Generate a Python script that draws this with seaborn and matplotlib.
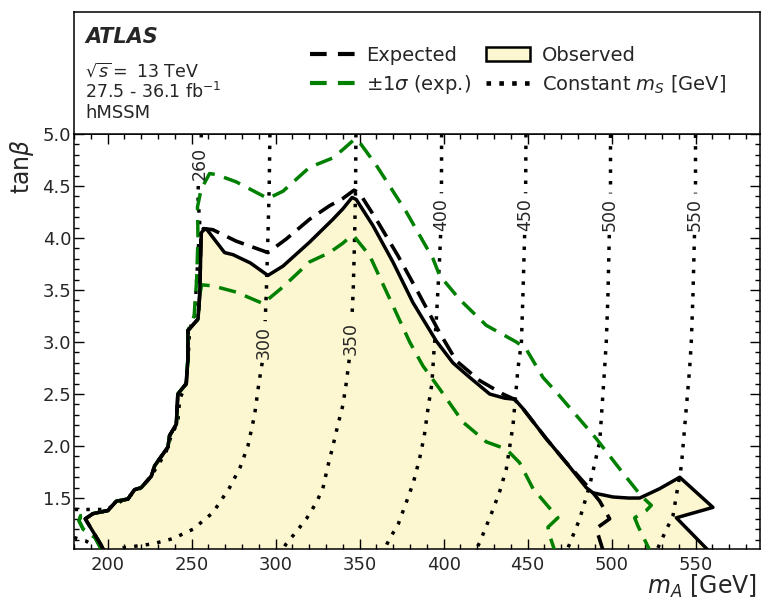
import numpy as np
import pandas as pd
import matplotlib
matplotlib.use('Agg')
import matplotlib.pyplot as plt
import seaborn as sns
from matplotlib.lines import Line2D
from matplotlib.patches import Patch
from matplotlib.ticker import MultipleLocator

# observed excluded region (m_A [GeV], tan beta), lower edge closes on the x axis
obs_mA = [197.6, 195.7, 186.7, 191.3, 200.2, 205.2, 212.1, 216.0, 220.0, 226.0, 228.0, 235.9, 236.9,
          240.9, 241.8, 246.8, 247.8, 247.8, 253.8, 254.8, 255.8, 256.7, 258.7, 262.0, 269.6, 274.6,
          285.0, 295.4, 304.4, 320.2, 334.1, 340.0, 345.5, 348.0, 357.9, 369.8, 381.7, 395.6, 405.5,
          415.5, 427.4, 436.3, 442.3, 447.2, 461.1, 473.0, 484.9, 488.9, 500.8, 510.0, 516.7, 528.6,
          540.5, 560.3, 538.5, 557.3]
obs_tb = [1.00, 1.06, 1.30, 1.35, 1.38, 1.47, 1.49, 1.58, 1.60, 1.71, 1.81, 1.99, 2.10,
          2.21, 2.50, 2.60, 2.84, 3.11, 3.22, 3.45, 4.05, 4.07, 4.09, 4.02, 3.86, 3.84,
          3.76, 3.64, 3.73, 3.96, 4.18, 4.28, 4.39, 4.37, 4.12, 3.77, 3.38, 3.01, 2.80,
          2.66, 2.50, 2.46, 2.45, 2.36, 2.07, 1.84, 1.60, 1.55, 1.51, 1.50, 1.50, 1.59,
          1.70, 1.41, 1.31, 1.00]

# expected limit
exp_mA = [197.6, 195.7, 186.7, 191.3, 200.2, 205.2, 212.1, 216.0, 220.0, 226.0, 228.0, 235.9, 236.9,
          240.9, 241.8, 246.8, 247.8, 247.8, 253.8, 254.8, 255.6, 257.0, 262.6, 276.5, 295.4, 306.3,
          320.2, 332.1, 340.0, 346.7, 350.0, 359.9, 372.8, 384.7, 397.6, 407.5, 421.4, 435.3, 442.0,
          447.2, 461.1, 473.0, 486.9, 492.9, 498.8, 491.9, 491.9, 494.8]
exp_tb = [1.00, 1.06, 1.30, 1.35, 1.38, 1.47, 1.49, 1.58, 1.60, 1.71, 1.81, 1.99, 2.10,
          2.21, 2.50, 2.60, 2.84, 3.11, 3.22, 3.45, 4.05, 4.09, 4.08, 3.97, 3.86, 3.99,
          4.18, 4.31, 4.38, 4.46, 4.43, 4.18, 3.83, 3.48, 3.09, 2.82, 2.63, 2.50, 2.45,
          2.36, 2.07, 1.84, 1.59, 1.47, 1.30, 1.22, 1.15, 1.00]

# +1 sigma band edge
up_mA = [196.5, 192.5, 185.5, 183.0, 184.0, 191.3, 200.2, 205.2, 212.1, 216.0, 220.0, 226.0, 228.0,
         235.9, 236.9, 240.9, 241.8, 246.8, 247.8, 247.8, 251.5, 253.0, 253.8, 253.5, 255.7, 260.7,
         264.7, 276.5, 295.4, 304.4, 320.2, 334.1, 340.0, 347.0, 349.5, 359.9, 377.8, 393.7, 397.6,
         409.5, 425.4, 443.3, 449.2, 459.1, 467.0, 490.9, 504.8, 517.6, 523.6, 520.6, 513.7, 515.7, 522.6]
up_tb = [1.00, 1.12, 1.20, 1.28, 1.33, 1.35, 1.38, 1.47, 1.49, 1.58, 1.60, 1.71, 1.81,
         1.99, 2.10, 2.21, 2.50, 2.60, 2.84, 3.11, 3.25, 3.60, 4.00, 4.30, 4.47, 4.62,
         4.61, 4.54, 4.38, 4.45, 4.68, 4.77, 4.85, 4.95, 4.93, 4.70, 4.25, 3.80, 3.64,
         3.41, 3.16, 3.00, 2.93, 2.66, 2.52, 2.07, 1.78, 1.52, 1.43, 1.38, 1.31, 1.23, 1.00]

# -1 sigma band edge
dn_mA = [196.5, 192.5, 185.5, 183.0, 184.0, 191.3, 200.2, 205.2, 212.1, 216.0, 220.0, 226.0, 228.0,
         235.9, 236.9, 240.9, 241.8, 246.8, 247.8, 247.8, 253.8, 254.8, 256.0, 262.6, 276.5, 292.5,
         304.4, 320.2, 332.1, 340.0, 345.0, 347.0, 356.0, 369.8, 379.8, 387.7, 397.6, 411.5, 425.4,
         437.3, 445.2, 453.2, 468.0, 462.1, 463.1, 466.0]
dn_tb = [1.00, 1.12, 1.20, 1.28, 1.33, 1.35, 1.38, 1.47, 1.49, 1.58, 1.60, 1.71, 1.81,
         1.99, 2.10, 2.21, 2.50, 2.60, 2.84, 3.11, 3.22, 3.45, 3.55, 3.54, 3.48, 3.37,
         3.53, 3.77, 3.86, 3.95, 4.02, 4.01, 3.83, 3.35, 3.00, 2.77, 2.55, 2.23, 2.04,
         1.97, 1.84, 1.59, 1.31, 1.22, 1.14, 1.00]

# contours of constant m_S [GeV]
ms_values = [260, 300, 350, 400, 450, 500, 550]
ms_label_tb = [4.72, 3.00, 3.03, 4.23, 4.23, 4.23, 4.23]
ms260_mA = [255.8, 255.6, 255.0, 254.0, 253.7, 254.8, 253.8, 251.8, 248.8, 247.8, 246.8, 242.9, 241.8,
            237.9, 234.9, 229.9, 223.0, 217.0, 207.1, 199.2, 180.0]
ms260_tb = [5.00, 4.94, 4.72, 4.50, 4.41, 4.15, 3.83, 3.25, 3.12, 2.80, 2.60, 2.45, 2.23,
            2.10, 1.95, 1.81, 1.65, 1.56, 1.46, 1.39, 1.39]
ms260_low_mA = [180.0, 186.7, 191.0]
ms260_low_tb = [1.12, 1.09, 1.05]
ms300_mA = [296.6, 296.2, 295.4, 294.5, 293.8, 293.0, 292.0, 290.0, 287.5, 283.5, 279.0, 272.6, 262.7,
            250.8, 238.9, 227.0, 209.0, 204.0]
ms300_tb = [5.00, 4.50, 4.00, 3.50, 3.20, 3.00, 2.80, 2.60, 2.30, 2.00, 1.80, 1.60, 1.36,
            1.20, 1.11, 1.06, 1.02, 1.00]
ms350_mA = [347.8, 347.6, 347.0, 346.2, 345.4, 344.7, 343.8, 342.0, 340.0, 337.0, 334.1, 331.0, 328.1,
            324.0, 318.3, 312.0, 306.3, 304.0]
ms350_tb = [5.00, 4.50, 4.00, 3.50, 3.23, 3.03, 2.83, 2.60, 2.39, 2.20, 2.00, 1.80, 1.59,
            1.45, 1.30, 1.17, 1.06, 1.00]
ms400_mA = [398.8, 398.7, 398.4, 398.2, 397.6, 396.6, 395.6, 394.2, 393.0, 390.7, 388.5, 385.7, 382.0,
            377.8, 373.0, 367.9, 364.5]
ms400_tb = [5.00, 4.43, 4.23, 4.03, 3.80, 3.50, 3.20, 2.90, 2.60, 2.36, 2.10, 1.88, 1.65,
            1.46, 1.25, 1.11, 1.00]
ms450_mA = [449.0, 448.8, 448.5, 448.2, 447.2, 446.3, 444.2, 441.3, 437.3, 433.5, 429.4, 421.4, 419.0]
ms450_tb = [5.00, 4.43, 4.23, 4.03, 3.45, 3.00, 2.74, 2.20, 1.78, 1.57, 1.39, 1.07, 1.00]
ms500_mA = [498.8, 498.8, 498.8, 498.6, 497.8, 496.8, 495.8, 492.9, 486.9, 481.0, 475.0, 473.5]
ms500_tb = [5.00, 4.43, 4.23, 4.03, 3.45, 3.00, 2.74, 2.04, 1.62, 1.30, 1.06, 1.00]
ms550_mA = [549.4, 549.4, 549.4, 549.3, 548.4, 547.4, 546.4, 541.5, 536.5, 528.6, 527.0]
ms550_tb = [5.00, 4.43, 4.23, 4.03, 3.45, 3.00, 2.74, 1.81, 1.33, 1.06, 1.00]

ms_mA = [ms260_mA, ms300_mA, ms350_mA, ms400_mA, ms450_mA, ms500_mA, ms550_mA]
ms_tb = [ms260_tb, ms300_tb, ms350_tb, ms400_tb, ms450_tb, ms500_tb, ms550_tb]

sns.set_style("ticks")
plt.rcParams['font.family'] = ['DejaVu Sans']
plt.rcParams['mathtext.fontset'] = 'dejavusans'
plt.rcParams['axes.axisbelow'] = False

W, H = 761, 599
fig = plt.figure(figsize=(W / 100, H / 100), dpi=100)
ax = fig.add_axes([74 / W, (H - 549) / H, (759.5 - 74) / W, (549 - 134) / H])
top = fig.add_axes([74 / W, (H - 134) / H, (759.5 - 74) / W, (134 - 12) / H])

fill_col = '#fcf7d0'
dot_style = (0, (1, 2.35))

ax.fill(obs_mA, obs_tb, facecolor=fill_col, edgecolor='none', zorder=1)

# constant m_S lines, broken where the label sits
for mA, tb, val, lab_tb in zip(ms_mA, ms_tb, ms_values, ms_label_tb):
    mA = np.array(mA, float)
    tb = np.array(tb, float)
    inside = np.abs(tb - lab_tb) < 0.19
    df = pd.DataFrame({'mA': mA, 'tb': tb, 'seg': np.cumsum(inside)})
    df = df[~inside]
    sns.lineplot(data=df, x='mA', y='tb', units='seg', estimator=None, sort=False,
                 color='black', lw=2.5, linestyle=dot_style, ax=ax, legend=False, zorder=2)
    ax.text(np.interp(lab_tb, tb[::-1], mA[::-1]), lab_tb, str(val), rotation=90,
            ha='center', va='center', fontsize=12.5, zorder=6)

df_low = pd.DataFrame({'mA': ms260_low_mA, 'tb': ms260_low_tb})
sns.lineplot(data=df_low, x='mA', y='tb', estimator=None, sort=False, color='black', lw=2.5,
             linestyle=dot_style, ax=ax, legend=False, zorder=2)

for mA, tb in [(up_mA, up_tb), (dn_mA, dn_tb)]:
    df = pd.DataFrame({'mA': mA, 'tb': tb})
    sns.lineplot(data=df, x='mA', y='tb', estimator=None, sort=False, color='green', lw=2.5,
                 linestyle=(0, (5, 2.8)), ax=ax, legend=False, zorder=3)

df = pd.DataFrame({'mA': exp_mA, 'tb': exp_tb})
sns.lineplot(data=df, x='mA', y='tb', estimator=None, sort=False, color='black', lw=2.6,
             linestyle=(0, (5, 2.5)), ax=ax, legend=False, zorder=4)

df = pd.DataFrame({'mA': obs_mA, 'tb': obs_tb})
sns.lineplot(data=df, x='mA', y='tb', estimator=None, sort=False, color='black', lw=2.5,
             ax=ax, legend=False, zorder=5)

ax.set_xlim(180, 588)
ax.set_ylim(1.01, 5.0)
ax.xaxis.set_major_locator(MultipleLocator(50))
ax.xaxis.set_minor_locator(MultipleLocator(10))
ax.yaxis.set_major_locator(MultipleLocator(0.5))
ax.yaxis.set_minor_locator(MultipleLocator(0.1))
ax.tick_params(which='both', direction='in', bottom=True, left=True, top=True, right=True,
               width=1, color='black', labelsize=13)
ax.tick_params(which='major', length=7)
ax.tick_params(which='minor', length=3.5)
ax.tick_params(axis='y', pad=2)
ax.tick_params(axis='x', pad=5)
ax.set_xlabel(r'$m_A$ [GeV]', fontsize=17, ha='right')
ax.xaxis.set_label_coords(0.996, -0.057)
ax.set_ylabel(r'tan$\beta$', fontsize=17, ha='right')
ax.yaxis.set_label_coords(-0.055, 0.987)

for a in [ax, top]:
    for s in a.spines.values():
        s.set_visible(True)
        s.set_linewidth(1.1)
        s.set_color('black')

top.set_xticks([])
top.set_yticks([])
top.text(0.016, 0.795, 'ATLAS', fontsize=15, fontweight='bold', fontstyle='italic',
         va='center', transform=top.transAxes)
top.text(0.016, 0.516, r'$\sqrt{s}=$ 13 TeV', fontsize=12.5, va='center', transform=top.transAxes)
top.text(0.016, 0.344, r'27.5 - 36.1 fb$^{-1}$', fontsize=12.5, va='center', transform=top.transAxes)
top.text(0.016, 0.172, 'hMSSM', fontsize=13, va='center', transform=top.transAxes)

handles = [Line2D([], [], color='black', lw=3, linestyle=(0, (4, 2.7))),
           Line2D([], [], color='green', lw=3, linestyle=(0, (4, 2.7))),
           Patch(facecolor=fill_col, edgecolor='black', lw=1.8),
           Line2D([], [], color='black', lw=3.3, linestyle=(0, (1, 1.8)))]
labels = ['Expected', r'$\pm1\sigma$ (exp.)', 'Observed', r'Constant $m_S$ [GeV]']
top.legend(handles, labels, ncol=2, loc='upper left', bbox_to_anchor=(0.344, 0.725),
           frameon=False, fontsize=14, handlelength=2.3, handletextpad=0.6,
           columnspacing=0.75, labelspacing=0.45, borderpad=0, borderaxespad=0)

fig.savefig('out.png', dpi=100)
